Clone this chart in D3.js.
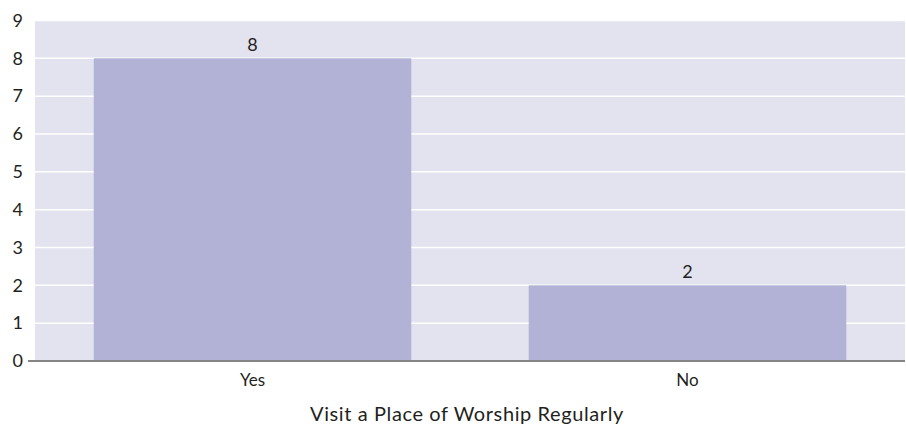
<!DOCTYPE html>
<html>
<head>
<meta charset="utf-8">
<script src="https://cdn.jsdelivr.net/npm/d3@7"></script>
<style>
  html, body { margin: 0; padding: 0; background: #fff; }
  svg { display: block; font-family: "Lato", "Open Sans", sans-serif; }
</style>
</head>
<body>
<svg id="chart" width="906" height="432"></svg>
<script>
// Survey responses: visiting a place of worship regularly
const categories = ["Yes", "No"];
const counts = [8, 2];
const yTicks = [0, 1, 2, 3, 4, 5, 6, 7, 8, 9];
const xTitle = "Visit a Place of Worship Regularly";

const svg = d3.select("#chart");
const W = 906, H = 432;
const margin = { top: 20.5, right: 1, bottom: 71, left: 35 };
const plotW = W - margin.left - margin.right;
const plotH = H - margin.top - margin.bottom;
const textColor = "#231f20";

const g = svg.append("g").attr("transform", `translate(${margin.left},${margin.top})`);

const x = d3.scaleBand().domain(categories).range([0, plotW]).padding(0);
const y = d3.scaleLinear().domain([0, 9]).range([plotH, 0]);

// plot background
g.append("rect")
  .attr("width", plotW).attr("height", plotH)
  .attr("fill", "#e3e3f0");

// horizontal gridlines
g.selectAll(".grid").data(yTicks.filter(d => d > 0)).enter().append("line")
  .attr("x1", 0).attr("x2", plotW)
  .attr("y1", d => y(d)).attr("y2", d => y(d))
  .attr("stroke", "#ffffff").attr("stroke-width", 1.5);

// bars
const barW = x.bandwidth() * 0.73;
g.selectAll(".bar").data(categories).enter().append("rect")
  .attr("x", d => x(d) + (x.bandwidth() - barW) / 2)
  .attr("width", barW)
  .attr("y", (d, i) => y(counts[i]))
  .attr("height", (d, i) => plotH - y(counts[i]))
  .attr("fill", "#b2b1d6");

// value labels
g.selectAll(".val").data(categories).enter().append("text")
  .attr("x", d => x(d) + x.bandwidth() / 2)
  .attr("y", (d, i) => y(counts[i]) - 7)
  .attr("text-anchor", "middle")
  .attr("font-size", 18).attr("fill", textColor)
  .text((d, i) => counts[i]);

// y axis tick labels
const yAxis = d3.axisLeft(y).tickValues(yTicks).tickSize(0).tickPadding(12);
const ya = g.append("g").call(yAxis);
ya.select(".domain").remove();
ya.selectAll("text").attr("font-size", 18).attr("fill", textColor).attr("font-family", "Lato, sans-serif");

// baseline
g.append("line")
  .attr("x1", -7).attr("x2", plotW)
  .attr("y1", plotH).attr("y2", plotH)
  .attr("stroke", "#858585").attr("stroke-width", 2);

// x axis category labels
const xAxis = d3.axisBottom(x).tickSize(0).tickPadding(13);
const xa = g.append("g").attr("transform", `translate(0,${plotH})`).call(xAxis);
xa.select(".domain").remove();
xa.selectAll("text").attr("font-size", 17).attr("fill", textColor).attr("font-family", "Lato, sans-serif");

// x axis title
svg.append("text")
  .attr("x", margin.left + plotW / 2 - 3)
  .attr("y", 421)
  .attr("text-anchor", "middle")
  .attr("font-size", 20).attr("fill", textColor)
  .attr("letter-spacing", 0.6)
  .text(xTitle);
</script>
</body>
</html>
